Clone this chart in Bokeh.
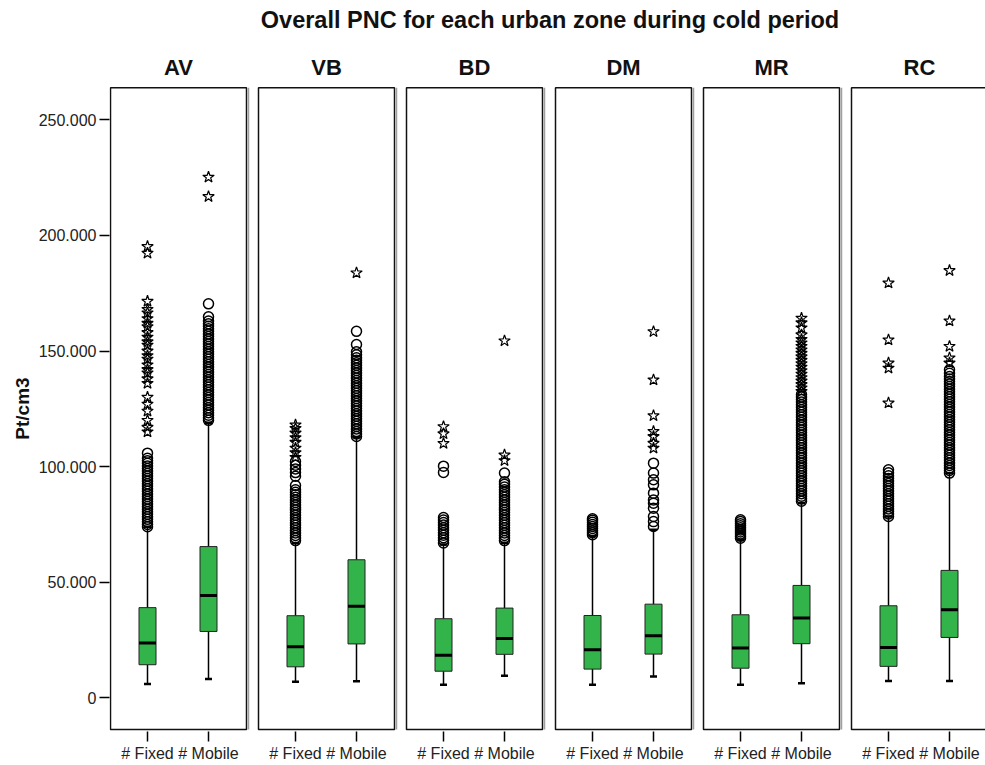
from bokeh.plotting import figure
from bokeh.layouts import column
from bokeh.models import Range1d, FixedTicker
from bokeh.core.properties import value
from bokeh.embed import file_html
from bokeh.resources import INLINE

# ---------------- data (values in thousands of Pt/cm3) ----------------
title = "Overall PNC for each urban zone during cold period"
y_label = "Pt/cm3"
zones = ["AV", "VB", "BD", "DM", "MR", "RC"]
groups = ["# Fixed", "# Mobile"]
y_ticks = [0, 50, 100, 150, 200, 250]
y_tick_labels = ["0", "50.000", "100.000", "150.000", "200.000", "250.000"]

# per zone: [Fixed, Mobile]
whisker_low = [[6.0, 8.1], [6.9, 7.2], [5.6, 9.5], [5.6, 9.2], [5.6, 6.3], [7.3, 7.3]]
q1 = [[14.3, 28.7], [13.4, 23.3], [11.5, 18.8], [12.4, 18.9], [12.8, 23.4], [13.6, 26.1]]
median = [[23.7, 44.2], [22.1, 39.6], [18.4, 25.7], [20.8, 26.8], [21.5, 34.5], [21.8, 38.1]]
q3 = [[39.0, 65.4], [35.5, 59.7], [34.2, 38.8], [35.6, 40.5], [35.9, 48.6], [39.8, 55.1]]
whisker_high = [[74.0, 119.0], [67.0, 112.7], [66.3, 67.1], [70.0, 72.7], [68.3, 84.2], [78.4, 97.2]]

av_fixed_circles = [74, 75, 76.1, 77.2, 78.3, 79.4, 80.5, 81.6, 82.7, 83.8, 84.9, 86, 87.1, 88.2, 89.3, 90.4,
                    91.5, 92.6, 93.7, 94.8, 95.9, 97, 98.1, 99.2, 100.3, 101.4, 102.5, 103.6, 105.8]
av_fixed_stars = [115, 117, 120, 124, 127, 130, 136, 138, 140.5, 142, 144, 146.5, 148, 150, 152.5, 154, 156,
                  158, 160.5, 162, 164, 166.5, 168, 171.5, 192.3, 195.2]
av_mobile_circles = [120, 121.1, 122.2, 123.3, 124.4, 125.5, 126.6, 127.7, 128.8, 129.9, 131, 132.1, 133.2,
                     134.3, 135.4, 136.5, 137.6, 138.7, 139.8, 140.9, 142, 143.1, 144.2, 145.3, 146.4, 147.5,
                     148.6, 149.7, 150.8, 151.9, 153, 154.1, 155.2, 156.3, 157.4, 158.5, 159.6, 160.7, 161.8,
                     163, 164.8, 170.4]
av_mobile_stars = [216.8, 225.2]

vb_fixed_circles = [68, 69.1, 70.2, 71.3, 72.4, 73.5, 74.6, 75.7, 76.8, 77.9, 79, 80.1, 81.2, 82.3, 83.4, 84.5,
                    85.6, 86.7, 87.8, 88.9, 90, 91.8, 95.8, 97.4, 99, 100.6, 102.2]
vb_fixed_stars = [104, 106, 108, 110.5, 112.5, 114.5, 116.5, 118]
vb_mobile_circles = [113, 114.1, 115.2, 116.3, 117.4, 118.5, 119.6, 120.7, 121.8, 122.9, 124, 125.1, 126.2,
                     127.3, 128.4, 129.5, 130.6, 131.7, 132.8, 133.9, 135, 136.1, 137.2, 138.3, 139.4, 140.5,
                     141.6, 142.7, 143.8, 144.9, 146, 147.1, 148.4, 149.7, 152.8, 158.5]
vb_mobile_stars = [183.8]

bd_fixed_circles = [67, 68.1, 69.2, 70.3, 71.4, 72.5, 73.6, 74.7, 75.8, 76.9, 78, 97.5, 100.2]
bd_fixed_stars = [110, 114.2, 117.3]
bd_mobile_circles = [68, 69.1, 70.2, 71.3, 72.4, 73.5, 74.6, 75.7, 76.8, 77.9, 79, 80.1, 81.2, 82.3, 83.4,
                     84.5, 85.6, 86.7, 87.8, 88.9, 90, 91.2, 92.4, 93.4, 97.2]
bd_mobile_stars = [102.6, 105, 154.4]

dm_fixed_circles = [70.5, 71.4, 72.3, 73.2, 74.1, 75, 75.9, 76.8, 77.4]
dm_fixed_stars = []
dm_mobile_circles = [74.1, 76.2, 78.4, 82, 84.2, 85.6, 88.5, 92.1, 94.3, 97.2, 101.5]
dm_mobile_stars = [108, 110.1, 113, 115.2, 122, 137.5, 158.4]

mr_fixed_circles = [69, 69.9, 70.8, 71.7, 72.6, 73.5, 74.4, 75.3, 76.2, 77]
mr_fixed_stars = []
mr_mobile_circles = [85, 86.1, 87.2, 88.3, 89.4, 90.5, 91.6, 92.7, 93.8, 94.9, 96, 97.1, 98.2, 99.3, 100.4,
                     101.5, 102.6, 103.7, 104.8, 105.9, 107, 108.1, 109.2, 110.3, 111.4, 112.5, 113.6, 114.7,
                     115.8, 116.9, 118, 119.1, 120.2, 121.3, 122.4, 123.5, 124.6, 125.7, 126.8, 127.9, 129,
                     130.1, 131.2]
mr_mobile_stars = [132.5, 134, 135.5, 137, 138.5, 140, 141.5, 143, 144.5, 146, 147.5, 149, 150.5, 152, 153.5,
                   155, 157, 160, 162.2, 164.2]

rc_fixed_circles = [78.4, 79.5, 80.6, 81.7, 82.8, 83.9, 85, 86.1, 87.2, 88.3, 89.4, 90.5, 91.6, 92.7, 93.8,
                    94.9, 96, 97.3, 98.6]
rc_fixed_stars = [127.5, 142.6, 144.8, 154.8, 179.4]
rc_mobile_circles = [97.2, 98.3, 99.4, 100.5, 101.6, 102.7, 103.8, 104.9, 106, 107.1, 108.2, 109.3, 110.4,
                     111.5, 112.6, 113.7, 114.8, 115.9, 117, 118.1, 119.2, 120.3, 121.4, 122.5, 123.6, 124.7,
                     125.8, 126.9, 128, 129.1, 130.2, 131.3, 132.4, 133.5, 134.6, 135.7, 136.8, 137.9, 139,
                     140.4, 141.9]
rc_mobile_stars = [144.8, 147, 152, 163, 184.8]

circles = [[av_fixed_circles, av_mobile_circles], [vb_fixed_circles, vb_mobile_circles],
           [bd_fixed_circles, bd_mobile_circles], [dm_fixed_circles, dm_mobile_circles],
           [mr_fixed_circles, mr_mobile_circles], [rc_fixed_circles, rc_mobile_circles]]
stars = [[av_fixed_stars, av_mobile_stars], [vb_fixed_stars, vb_mobile_stars],
         [bd_fixed_stars, bd_mobile_stars], [dm_fixed_stars, dm_mobile_stars],
         [mr_fixed_stars, mr_mobile_stars], [rc_fixed_stars, rc_mobile_stars]]

# ---------------- layout constants ----------------
K = 1000.0
PANEL_STEP = 148.2
PANEL_W = 136
OFFSETS = [37, 98]
BOX_W = 17
CAP_W = 7
PANEL_TOP = 263900
PANEL_BOT = -13700
GREEN = "#33b44a"
FONT = "Liberation Sans"
TOP_H = 85

x_range = Range1d(-1, 875)
panel_left = [round(i * PANEL_STEP) for i in range(len(zones))]

# ---- header figure (title and panel titles) ----
h = figure(width=985, height=TOP_H, output_backend="svg", toolbar_location=None,
           x_range=x_range, y_range=Range1d(0, TOP_H), x_axis_type=None, y_axis_type=None,
           min_border_left=109, min_border_right=0, min_border_top=0, min_border_bottom=0,
           background_fill_color="white", border_fill_color="white")
h.outline_line_color = None
h.xgrid.visible = False
h.ygrid.visible = False
h.text(x=[439.5], y=[TOP_H - 19.5], text=[title], text_font=value(FONT), text_font_style="bold",
       text_font_size="23.5px", text_align="center", text_baseline="middle", text_color="#111111")
h.text(x=[l + PANEL_W / 2 for l in panel_left], y=[TOP_H - 66.7] * len(zones), text=zones,
       text_font=value(FONT), text_font_style="bold", text_font_size="22px",
       text_align="center", text_baseline="middle", text_color="#111111")

# ---- main figure ----
p = figure(width=985, height=765 - TOP_H, output_backend="svg", toolbar_location=None,
           x_range=x_range, y_range=Range1d(-14580, 264840),
           min_border_left=109, min_border_right=0, min_border_top=0, min_border_bottom=34,
           background_fill_color="white", border_fill_color="white")
p.outline_line_color = None
p.xgrid.visible = False
p.ygrid.visible = False

# panels
p.quad(left=panel_left, right=[l + PANEL_W for l in panel_left],
       top=[PANEL_TOP] * len(zones), bottom=[PANEL_BOT] * len(zones),
       fill_color=None, line_color="#111111", line_width=1.5)
p.segment(x0=[l + PANEL_W + 2 for l in panel_left], x1=[l + PANEL_W + 2 for l in panel_left],
          y0=[PANEL_BOT] * len(zones), y1=[PANEL_TOP] * len(zones),
          line_color="#a0a0a0", line_width=1.5)

xs, lo, b1, md, b3, hi = [], [], [], [], [], []
cx, cy, sx, sy = [], [], [], []
tick_pos, tick_lab = [], []
for i, z in enumerate(zones):
    for j, g in enumerate(groups):
        x = panel_left[i] + OFFSETS[j]
        xs.append(x)
        tick_pos.append(x)
        tick_lab.append(g)
        lo.append(whisker_low[i][j] * K)
        b1.append(q1[i][j] * K)
        md.append(median[i][j] * K)
        b3.append(q3[i][j] * K)
        hi.append(whisker_high[i][j] * K)
        for v in circles[i][j]:
            cx.append(x); cy.append(v * K)
        for v in stars[i][j]:
            sx.append(x); sy.append(v * K)

# whiskers
p.segment(x0=xs, x1=xs, y0=b3, y1=hi, line_color="black", line_width=1.5)
p.segment(x0=xs, x1=xs, y0=b1, y1=lo, line_color="black", line_width=1.5)
p.segment(x0=[x - CAP_W / 2 for x in xs], x1=[x + CAP_W / 2 for x in xs], y0=lo, y1=lo,
          line_color="black", line_width=2.5)
p.segment(x0=[x - CAP_W / 2 for x in xs], x1=[x + CAP_W / 2 for x in xs], y0=hi, y1=hi,
          line_color="black", line_width=2.5)
# boxes
p.vbar(x=xs, width=BOX_W, top=b3, bottom=b1, fill_color=GREEN, line_color="#222222", line_width=1)
p.segment(x0=[x - BOX_W / 2 for x in xs], x1=[x + BOX_W / 2 for x in xs], y0=md, y1=md,
          line_color="black", line_width=3)
# outliers
p.scatter(cx, cy, marker="circle", size=10, fill_color=None, line_color="black", line_width=1.5)
p.scatter(sx, sy, marker="star", size=12, fill_color=None, line_color="black", line_width=1.2)

# axes
p.yaxis.ticker = FixedTicker(ticks=[t * K for t in y_ticks])
p.yaxis.major_label_overrides = {int(t * K): lab for t, lab in zip(y_ticks, y_tick_labels)}
p.xaxis.ticker = FixedTicker(ticks=tick_pos)
p.xaxis.major_label_overrides = {x: lab for x, lab in zip(tick_pos, tick_lab)}
for ax in (p.xaxis[0], p.yaxis[0]):
    ax.axis_line_color = None
    ax.major_tick_out = 10
    ax.major_tick_in = 0
    ax.minor_tick_line_color = None
    ax.major_tick_line_color = "black"
    ax.major_tick_line_width = 1.5
    ax.major_label_text_font = FONT
    ax.major_label_text_font_size = "16px"
    ax.major_label_text_color = "#222222"
    ax.major_label_standoff = 3
p.yaxis.axis_label = y_label
p.yaxis.axis_label_text_font = FONT
p.yaxis.axis_label_text_font_style = "bold"
p.yaxis.axis_label_text_font_size = "19px"
p.yaxis.axis_label_text_color = "#111111"
p.yaxis.axis_label_standoff = 3

layout = column(h, p, spacing=0)
open("out.html", "w").write(file_html(layout, INLINE))
